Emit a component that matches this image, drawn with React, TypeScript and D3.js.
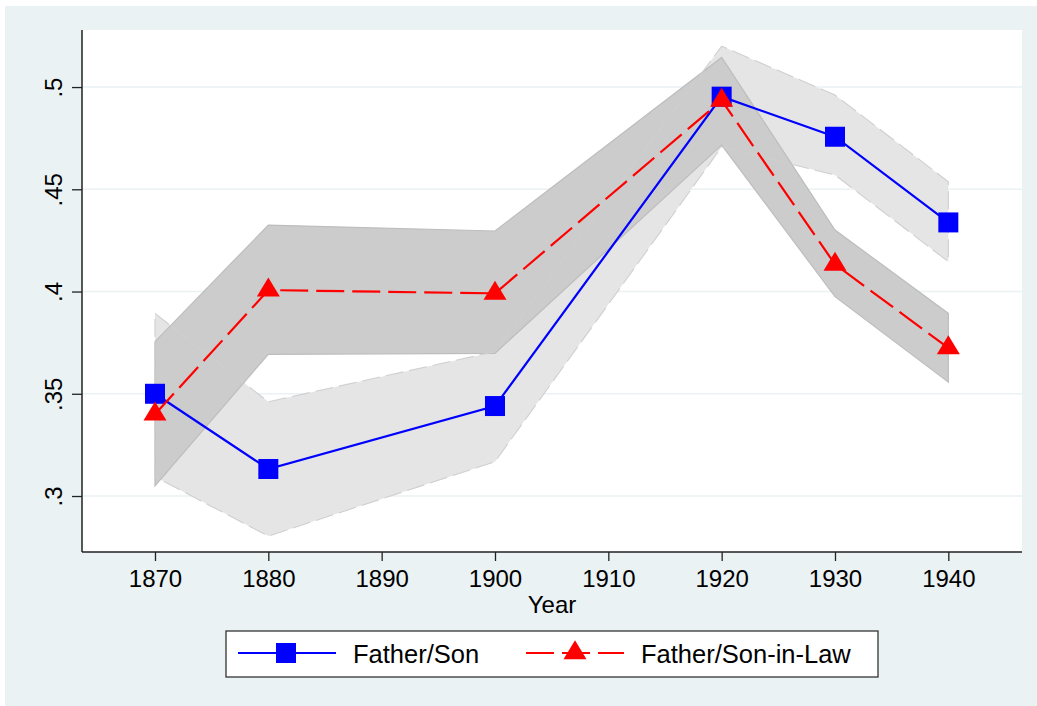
import React, { useEffect, useRef } from 'react';
import * as d3 from 'd3';

// Census years and estimated coefficients
const years = [1870, 1880, 1900, 1920, 1930, 1940];
const fatherSon = [0.350, 0.3132, 0.344, 0.4953, 0.4757, 0.4338];
const fatherSonLo = [0.3094, 0.2804, 0.3168, 0.4707, 0.457, 0.4146];
const fatherSonHi = [0.3893, 0.3461, 0.3706, 0.52, 0.4961, 0.4537];
const sonInLaw = [0.340, 0.4007, 0.3991, 0.4935, 0.4133, 0.3724];
const sonInLawLo = [0.3049, 0.3693, 0.3698, 0.4716, 0.3975, 0.3557];
const sonInLawHi = [0.3755, 0.4325, 0.4296, 0.5145, 0.4301, 0.3893];

const xTicks = [1870, 1880, 1890, 1900, 1910, 1920, 1930, 1940];
const yTicks = [0.3, 0.35, 0.4, 0.45, 0.5];
const seriesLabels = ['Father/Son', 'Father/Son-in-Law'];

const FONT = '"Liberation Sans", Arial, Helvetica, sans-serif';
const BG = '#eaf2f3';

const App: React.FC = () => {
  const svgRef = useRef<SVGSVGElement>(null);

  useEffect(() => {
    if (!svgRef.current) return;
    const svg = d3.select(svgRef.current);
    svg.selectAll('*').remove();

    const width = 1037;
    const height = 706;
    const plot = { left: 82, right: 1022, top: 30, bottom: 552 };

    svg.attr('width', width).attr('height', height);

    // outer background
    svg.append('rect')
      .attr('x', 5).attr('y', 6)
      .attr('width', width - 5).attr('height', height - 6)
      .attr('fill', BG);

    svg.append('rect')
      .attr('x', plot.left).attr('y', plot.top)
      .attr('width', plot.right - plot.left).attr('height', plot.bottom - plot.top)
      .attr('fill', '#ffffff');

    const x = d3.scaleLinear().domain([1863.56, 1946.5]).range([plot.left, plot.right]);
    const y = d3.scaleLinear().domain([0.27262, 0.5279]).range([plot.bottom, plot.top]);

    // grid lines
    svg.append('g')
      .selectAll('line')
      .data(yTicks)
      .enter()
      .append('line')
      .attr('x1', plot.left)
      .attr('x2', plot.right)
      .attr('y1', d => y(d))
      .attr('y2', d => y(d))
      .attr('stroke', BG)
      .attr('stroke-width', 1.6);

    const idx = d3.range(years.length);

    const band = (lo: number[], hi: number[]) =>
      d3.area<number>()
        .x(i => x(years[i]))
        .y0(i => y(lo[i]))
        .y1(i => y(hi[i]));

    const outline = (lo: number[], hi: number[]) => {
      const pts: [number, number][] = [
        ...idx.map(i => [x(years[i]), y(hi[i])] as [number, number]),
        ...idx.slice().reverse().map(i => [x(years[i]), y(lo[i])] as [number, number]),
      ];
      return d3.line()(pts) + 'Z';
    };

    // confidence bands
    svg.append('path')
      .datum(idx)
      .attr('d', band(fatherSonLo, fatherSonHi))
      .attr('fill', '#e5e5e5');

    svg.append('path')
      .datum(idx)
      .attr('d', band(sonInLawLo, sonInLawHi))
      .attr('fill', '#cccccc');

    svg.append('path')
      .attr('d', outline(sonInLawLo, sonInLawHi))
      .attr('fill', 'none')
      .attr('stroke', '#bdbdbd')
      .attr('stroke-width', 1.2);

    svg.append('path')
      .attr('d', outline(fatherSonLo, fatherSonHi))
      .attr('fill', 'none')
      .attr('stroke', '#cfcfcf')
      .attr('stroke-width', 1.1)
      .attr('stroke-dasharray', '18,6');

    // axes
    const yAxis = d3.axisLeft(y)
      .tickValues(yTicks)
      .tickSize(10)
      .tickFormat(d => d3.format('.2~f')(d as number).replace(/^0/, ''));

    const gy = svg.append('g')
      .attr('transform', `translate(${plot.left},0)`)
      .call(yAxis);
    gy.select('.domain')
      .attr('d', `M0,${plot.top}V${plot.bottom}`)
      .attr('stroke', '#222')
      .attr('stroke-width', 1.5);
    gy.selectAll('.tick line').attr('stroke', '#222').attr('stroke-width', 1.3);
    gy.selectAll('.tick text')
      .attr('x', null)
      .attr('dy', null)
      .attr('transform', 'translate(-20,0) rotate(-90)')
      .attr('text-anchor', 'middle')
      .attr('y', 0)
      .style('font-family', FONT)
      .style('font-size', '24px')
      .attr('fill', '#000');

    const xAxis = d3.axisBottom(x)
      .tickValues(xTicks)
      .tickSize(9)
      .tickFormat(d => String(d));

    const gx = svg.append('g')
      .attr('transform', `translate(0,${plot.bottom})`)
      .call(xAxis);
    gx.select('.domain')
      .attr('d', `M${plot.left},0H${plot.right}`)
      .attr('stroke', '#222')
      .attr('stroke-width', 1.5);
    gx.selectAll('.tick line').attr('stroke', '#222').attr('stroke-width', 1.3);
    gx.selectAll('.tick text')
      .attr('y', 35)
      .attr('dy', null)
      .style('font-family', FONT)
      .style('font-size', '24px')
      .attr('fill', '#000');

    svg.append('text')
      .attr('x', (plot.left + plot.right) / 2)
      .attr('y', 613)
      .attr('text-anchor', 'middle')
      .style('font-family', FONT)
      .style('font-size', '24px')
      .text('Year');

    // series
    const line = (vals: number[]) =>
      d3.line<number>().x(i => x(years[i])).y(i => y(vals[i]));

    const squarePath = (s: number) => `M${-s / 2},${-s / 2}h${s}v${s}h${-s}Z`;
    const trianglePath = (w: number, h: number) =>
      `M0,${-h * 2 / 3}L${w / 2},${h / 3}L${-w / 2},${h / 3}Z`;

    svg.append('path')
      .datum(idx)
      .attr('d', line(fatherSon))
      .attr('fill', 'none')
      .attr('stroke', '#0000ff')
      .attr('stroke-width', 2.2);

    svg.append('g')
      .selectAll('path')
      .data(idx)
      .enter()
      .append('path')
      .attr('transform', i => `translate(${x(years[i])},${y(fatherSon[i])})`)
      .attr('d', squarePath(20))
      .attr('fill', '#0000ff');

    svg.append('path')
      .datum(idx)
      .attr('d', line(sonInLaw))
      .attr('fill', 'none')
      .attr('stroke', '#ff0000')
      .attr('stroke-width', 2.2)
      .attr('stroke-dasharray', '28,8');

    svg.append('g')
      .selectAll('path')
      .data(idx)
      .enter()
      .append('path')
      .attr('transform', i => `translate(${x(years[i])},${y(sonInLaw[i])})`)
      .attr('d', trianglePath(23, 19))
      .attr('fill', '#ff0000');

    // legend
    const legend = svg.append('g');
    legend.append('rect')
      .attr('x', 226).attr('y', 631)
      .attr('width', 652).attr('height', 46)
      .attr('fill', '#ffffff')
      .attr('stroke', '#333')
      .attr('stroke-width', 1.3);

    const ly = 653;
    legend.append('line')
      .attr('x1', 238).attr('x2', 336).attr('y1', ly).attr('y2', ly)
      .attr('stroke', '#0000ff').attr('stroke-width', 2.2);
    legend.append('path')
      .attr('transform', `translate(286,${ly})`)
      .attr('d', squarePath(20))
      .attr('fill', '#0000ff');
    legend.append('text')
      .attr('x', 353).attr('y', 663)
      .style('font-family', FONT)
      .style('font-size', '25.5px')
      .text(seriesLabels[0]);

    legend.append('line')
      .attr('x1', 526).attr('x2', 624).attr('y1', ly).attr('y2', ly)
      .attr('stroke', '#ff0000').attr('stroke-width', 2.2)
      .attr('stroke-dasharray', '28,8');
    legend.append('path')
      .attr('transform', `translate(575,${ly})`)
      .attr('d', trianglePath(23, 19))
      .attr('fill', '#ff0000');
    legend.append('text')
      .attr('x', 641).attr('y', 663)
      .style('font-family', FONT)
      .style('font-size', '25.5px')
      .text(seriesLabels[1]);
  }, []);

  return (
    <div style={{ position: 'absolute', left: 0, top: 0, width: 1037, height: 706, background: '#fff' }}>
      <svg ref={svgRef} style={{ display: 'block' }}></svg>
    </div>
  );
};

export default App;
